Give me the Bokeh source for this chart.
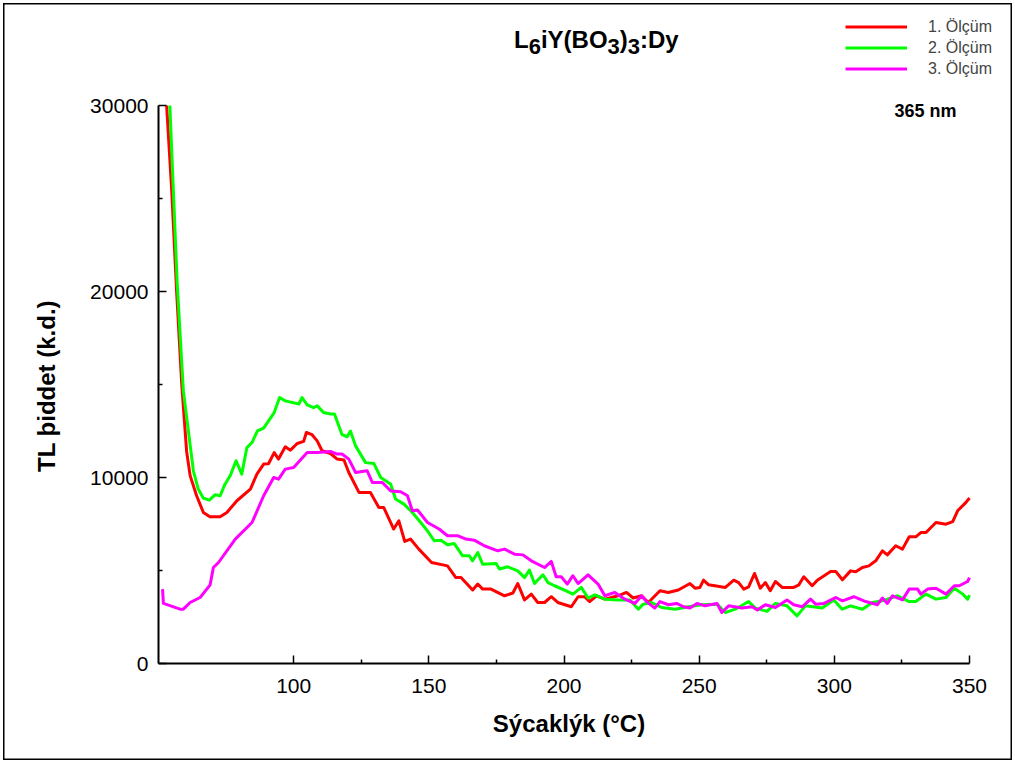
import numpy as np
from bokeh.plotting import figure
from bokeh.models import Range1d, FixedTicker, Label, Legend, LegendItem
from bokeh.embed import file_html
from bokeh.resources import INLINE

# ---------------- data ----------------
t_1 = [53, 54.9, 56.7, 58.6, 60.4, 61.7, 64.1, 66.6, 69, 72.8, 75.3, 79, 84, 86.4, 88.9, 90.7,
       92.8, 94.4, 96.9, 98.8, 101.3, 103.7, 104.7, 106.8, 108.7, 110.5, 113.6, 116.1, 118.6, 120.4,
       124.2, 128.4, 131.5, 133.3, 137, 138.9, 141.1, 143.2, 146.3, 151, 156.9, 160, 161.9, 166.2,
       168.1, 169.9, 173, 178, 181.1, 182.9, 185.4, 187.9, 190.3, 192.8, 195.3, 197.7, 202.7, 205.2,
       207.6, 209.5, 212, 215.1, 220, 223.1, 225.6, 228.7, 231.2, 235.5, 238.6, 242.3, 246.6, 248.5,
       250.3, 251.6, 253.5, 259.7, 262.8, 264.6, 266.5, 268.3, 270.5, 272.6, 274.5, 276.3, 278.2,
       280.7, 285, 286.9, 288.7, 291.8, 293.7, 298.6, 300.5, 303, 306, 307.9, 310.4, 312.8, 315.3,
       317.8, 319.6, 322.7, 325.2, 327.7, 330.1, 332, 333.9, 337.6, 341.3, 343.8, 345.6, 348.7, 350]
i_1 = [30000, 25400, 20000, 15000, 11400, 10100, 9020, 8120, 7890, 7890, 8120, 8750, 9380,
       10180, 10720, 10740, 11340, 10990, 11650, 11470, 11830, 11940, 12420, 12300, 11970, 11440, 11290,
       10990, 10940, 10270, 9190, 9190, 8390, 8390, 7230, 7670, 6560, 6690, 6150, 5430, 5250, 4620, 4620,
       3950, 4270, 4000, 4000, 3640, 3790, 4300, 3420, 3730, 3280, 3280, 3590, 3280, 3050, 3590, 3590,
       3330, 3640, 3460, 3640, 3820, 3520, 3640, 3280, 3910, 3820, 3950, 4300, 4050, 4090, 4480, 4230,
       4090, 4480, 4350, 4000, 4120, 4840, 4050, 4350, 3910, 4410, 4090, 4090, 4230, 4660, 4180, 4480,
       4950, 4950, 4500, 4980, 4930, 5160, 5250, 5520, 6060, 5840, 6330, 6150, 6810, 6810, 7040, 7040,
       7580, 7490, 7630, 8210, 8660, 8900]

t_2 = [54.2, 56.9, 59.2, 62.9, 64.7, 66.6, 68.8, 70.9, 72.8, 74.6, 76.5, 78.7, 80.8, 82.7,
       84.6, 86.6, 88.9, 92.8, 94.8, 96.9, 101.9, 103.1, 105, 107.4, 108.7, 111.1, 113.6, 115.1, 117.9,
       119.8, 121, 122.9, 126.6, 129.7, 132.2, 135.9, 137.7, 140.8, 143.9, 147, 149.5, 152, 154.5,
       156.9, 159.4, 162.5, 165, 166.2, 168.1, 169.9, 174.9, 176.1, 179.2, 182.9, 185.4, 187.2, 189.1,
       192.2, 194.1, 196.5, 200.2, 203.3, 206.4, 208.9, 211.4, 215.1, 220, 224.4, 227.5, 229.3, 232.4,
       236.1, 241.1, 246, 251, 256.6, 259.7, 263.4, 268.3, 270.8, 275.1, 278.2, 282.5, 286.2, 289.3,
       295.5, 299.8, 302.9, 306, 310.4, 314.1, 317.8, 323.4, 327.7, 330.1, 333.9, 337.6, 341.3, 344.4,
       347.5, 349.3, 350]
i_2 = [30000, 20500, 14660, 10360, 9380, 8890, 8780, 9070, 9020, 9640, 10090, 10900, 10180,
       11610, 11880, 12510, 12650, 13490, 14300, 14120, 13950, 14300, 13910, 13760, 13850, 13490, 13410,
       13410, 12300, 12190, 12500, 11700, 10800, 10750, 10000, 9640, 8840, 8570, 8120, 7580, 7130, 6600,
       6630, 6380, 6450, 5790, 5790, 5520, 5970, 5340, 5380, 5080, 5200, 4980, 4620, 5020, 4300, 4770,
       4350, 4180, 3950, 3730, 4090, 3520, 3690, 3460, 3410, 3410, 2920, 3190, 3280, 3010, 2920, 3050,
       3160, 3190, 2740, 2920, 3330, 2980, 2800, 3230, 3100, 2560, 3100, 2980, 3410, 2920, 3100, 2920,
       3280, 3370, 3640, 3330, 3330, 3730, 3460, 3550, 4050, 3730, 3460, 3680]

t_3 = [51.5, 51.8, 58, 59.2, 61.7, 65.4, 69.1, 70.3, 72.2, 78.4, 84.6, 88.9, 92.6, 94.4, 96.9, 100,
       105, 108.7, 113.6, 116.1, 117.9, 120.4, 122.9, 127.2, 129.1, 132.8, 135.9, 139.6, 142.1, 143.9,
       145.8, 149.5, 153.8, 156.9, 160.6, 163.7, 166.8, 170.5, 175.5, 178, 181.7, 184.8, 187.9, 192.8,
       195.3, 197.1, 199, 201.2, 203.3, 205.2, 208.9, 212.6, 215.1, 218.8, 222.5, 226.2, 228.7, 230.5,
       233.6, 235.5, 238.6, 241.7, 244.2, 246.6, 249.2, 252.2, 256.6, 258.4, 260.9, 265.8, 269.6, 271.5,
       274.5, 278.2, 282.5, 285, 288.1, 291.2, 293.1, 296.2, 300.5, 303, 307.2, 311.6, 315.9, 317.8,
       319.6, 321.5, 325.2, 327.7, 330.8, 332, 334.5, 337.6, 341.3, 344.4, 346.2, 349.3, 350]
i_3 = [4000, 3230, 2920, 2920, 3280, 3550, 4230, 5160, 5430, 6690, 7580, 9020, 10000, 9910, 10450, 10540,
       11340, 11340, 11400, 11260, 11260, 10990, 10270, 10360, 9730, 9730, 9280, 9230, 9020, 8210, 8250,
       7580, 7230, 6870, 6870, 6690, 6630, 6330, 6060, 6150, 5880, 5840, 5520, 5160, 5490, 4660, 4660,
       4270, 4720, 4300, 4770, 4270, 3640, 3820, 3460, 3230, 3640, 3330, 2980, 3330, 3160, 3230, 3050,
       2980, 3230, 3100, 3230, 2740, 3100, 2980, 3050, 2870, 3160, 3010, 3410, 3160, 3050, 3460, 3190,
       3230, 3550, 3370, 3590, 3330, 3160, 3520, 3230, 3640, 3420, 4000, 4000, 3730, 4000, 4050, 3730,
       4180, 4180, 4410, 4620]

series_names = ["1. Ölçüm", "2. Ölçüm", "3. Ölçüm"]
series_colors = ["#ff0000", "#00ff00", "#ff00ff"]
x_major = [100, 150, 200, 250, 300, 350]
x_minor = [125, 175, 225, 275, 325]
y_major = [0, 10000, 20000, 30000]
y_minor = [5000, 15000, 25000]

# ---------------- layout ----------------
W, H = 1015, 763
ML, MB = 158, 100            # left / bottom axis panels
AX_RIGHT, AX_TOP = 969, 105  # pixel where x=350 and y=30000 sit
X0, X1, Y0, Y1 = 50, 350, 0, 30000
SX = (AX_RIGHT - ML) / (X1 - X0)          # px per unit
SY = ((H - MB) - AX_TOP) / (Y1 - Y0)
XEND = X0 + (W - ML) / SX
YEND = Y0 + (H - MB) / SY
FONT = "Liberation Sans"

def dx(px):
    return X0 + (px - ML) / SX

def dy(py):
    return Y0 + ((H - MB) - py) / SY

p = figure(width=W, height=H, output_backend="svg", toolbar_location=None,
           x_range=Range1d(X0, XEND), y_range=Range1d(Y0, YEND),
           min_border_left=ML, min_border_right=0, min_border_top=0, min_border_bottom=MB)
p.outline_line_color = None
p.xgrid.visible = False
p.ygrid.visible = False
# transparent canvas so that the page frame drawn by the host element shows through
p.background_fill_alpha = 0
p.border_fill_alpha = 0
p.styles = {"background-color": "white",
            "box-shadow": "inset 0 0 0 3px white, inset 0 0 0 4.5px black"}

for ax, maj, mnr, bnd in ((p.xaxis[0], x_major, x_minor, (X0, X1)),
                          (p.yaxis[0], y_major, y_minor, (Y0, Y1))):
    ax.ticker = FixedTicker(ticks=maj, minor_ticks=mnr)
    ax.bounds = bnd
    ax.axis_line_width = 2
    ax.axis_line_color = "black"
    ax.major_tick_in = 8
    ax.major_tick_out = 0
    ax.minor_tick_in = 4
    ax.minor_tick_out = 0
    ax.major_tick_line_width = 1.5
    ax.minor_tick_line_width = 1.5
    ax.major_tick_line_color = "black"
    ax.minor_tick_line_color = "black"
    ax.major_label_text_font = FONT
    ax.major_label_text_font_size = "21px"
    ax.major_label_text_color = "black"
    ax.axis_label_text_font = FONT
    ax.axis_label_text_font_size = "24px"
    ax.axis_label_text_font_style = "bold"
    ax.axis_label_text_color = "black"

# trailing em/en spaces shift the centred labels over the drawn axis extent
p.xaxis.axis_label = "Sýcaklýk (°C)\u2003\u2002"
p.yaxis.axis_label = "TL þiddet (k.d.)\u2003\u2003\u2003\u2003\u2002"
p.xaxis.major_label_standoff = 15
p.xaxis.axis_label_standoff = 14
p.yaxis.major_label_standoff = 10
p.yaxis.axis_label_standoff = 27

renderers = []
for xs, ys, c in ((t_1, i_1, series_colors[0]), (t_2, i_2, series_colors[1]), (t_3, i_3, series_colors[2])):
    r = p.line(xs, ys, line_color=c, line_width=3, line_join="round")
    renderers.append(r)

legend = Legend(items=[LegendItem(label=n, renderers=[r]) for n, r in zip(series_names, renderers)],
                location=(845 - ML, (H - MB) - 79), label_text_font=FONT, label_text_font_size="16px",
                label_standoff=21, glyph_width=62, glyph_height=21, label_height=21, spacing=0,
                padding=0, margin=0, border_line_color=None, background_fill_alpha=0)
p.add_layout(legend)

# title with subscripts
pieces = [("L", 24, 513.5, 39.3), ("6", 22, 528.2, 46.0), ("iY(BO", 24, 540.4, 39.3),
          ("3", 22, 607.1, 46.0), (")", 24, 619.3, 39.3), ("3", 22, 627.3, 46.0), (":Dy", 24, 639.5, 39.3)]
for txt, sz, px, py in pieces:
    p.add_layout(Label(x=dx(px), y=dy(py), text=txt, text_font=FONT, text_font_size=f"{sz}px",
                       text_font_style="bold", text_color="black", text_baseline="alphabetic"))

p.add_layout(Label(x=dx(894), y=dy(110), text="365 nm", text_font=FONT, text_font_size="18px",
                   text_font_style="bold", text_color="black", text_baseline="middle"))

open("out.html", "w").write(file_html(p, INLINE))
